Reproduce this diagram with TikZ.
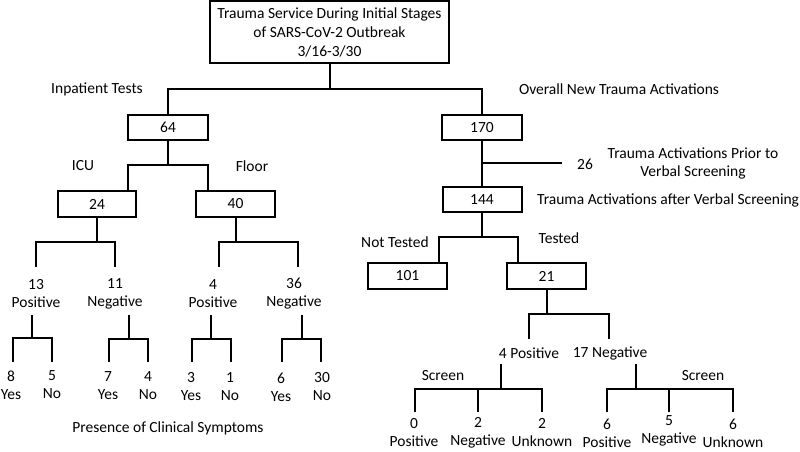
\documentclass[tikz,border=0pt]{standalone}
\usepackage{fontspec}
\setmainfont{Carlito}
\begin{document}
\begin{tikzpicture}[x=1pt,y=-1pt,
  box/.style={draw, line width=2pt, minimum width=79pt, minimum height=25.5pt, inner sep=0pt},
  lbl/.style={inner sep=0pt, align=center, font=\fontsize{15.5}{18}\selectfont},
  conn/.style={line width=2pt}]
\useasboundingbox (0,0) rectangle (800,451);
% boxes
\node[box, minimum width=239pt, minimum height=62pt, align=center, font=\fontsize{15.5}{19}\selectfont] (top) at (329.5,32) {Trauma Service During Initial Stages\\of SARS-CoV-2 Outbreak\\3/16-3/30};
\node[box, lbl, draw, line width=2pt, minimum width=80pt, minimum height=25pt] (b64) at (168,127.5) {64};
\node[box, lbl, draw, line width=2pt, minimum width=80pt, minimum height=25pt] (b170) at (482,127.5) {170};
\node[box, lbl, draw, line width=2pt, minimum width=78pt, minimum height=26pt] (b24) at (97,204) {24};
\node[box, lbl, draw, line width=2pt, minimum width=79pt, minimum height=26pt] (b40) at (235.5,204) {40};
\node[box, lbl, draw, line width=2pt, minimum width=79pt, minimum height=25pt] (b144) at (482,199.5) {144};
\node[box, lbl, draw, line width=2pt, minimum width=79pt, minimum height=26pt] (b101) at (407.5,276) {101};
\node[box, lbl, draw, line width=2pt, minimum width=79pt, minimum height=26pt] (b21) at (546.5,276) {21};
% labels
\node[lbl] (inp) at (97,89) {Inpatient Tests};
\node[lbl] (ovr) at (619,89) {Overall New Trauma Activations};
\node[lbl] (icu) at (83,166) {ICU};
\node[lbl] (flr) at (252,166) {Floor};
\node[lbl] (n26) at (585,164) {26};
\node[lbl] (prior) at (693,163) {Trauma Activations Prior to\\Verbal Screening};
\node[lbl, anchor=west] (after) at (537,200) {Trauma Activations after Verbal Screening};
\node[lbl] (nt) at (395,242) {Not Tested};
\node[lbl] (tst) at (559,238) {Tested};
\node[lbl] (pos4) at (529,353) {4 Positive};
\node[lbl] (neg17) at (610,353) {17 Negative};
\node[lbl] (scr1) at (443,376) {Screen};
\node[lbl] (scr2) at (703,376) {Screen};
\node[lbl] (pres) at (168,428) {Presence of Clinical Symptoms};
% second-level labels left
\node[lbl] (n13) at (36,294) {13\\Positive};
\node[lbl] (n11) at (115,294) {11\\Negative};
\node[lbl] (n4) at (213,294) {4\\Positive};
\node[lbl] (n36) at (294,294) {36\\Negative};
% leaves left
\node[lbl] (y8) at (11,385) {8\\Yes};
\node[lbl] (n5) at (52,385) {5\\No};
\node[lbl] (y7) at (108,386) {7\\Yes};
\node[lbl] (no4) at (148,386) {4\\No};
\node[lbl] (y3) at (191,387) {3\\Yes};
\node[lbl] (no1) at (230,387) {1\\No};
\node[lbl] (y6) at (281,387) {6\\Yes};
\node[lbl] (no30) at (322,387) {30\\No};
% leaves right
\node[lbl] (r0) at (414,433) {0\\Positive};
\node[lbl] (r2a) at (478,433) {2\\Negative};
\node[lbl] (r2b) at (542,433) {2\\Unknown};
\node[lbl] (r6a) at (607,433) {6\\Positive};
\node[lbl] (r5) at (669,431) {5\\Negative};
\node[lbl] (r6b) at (733,433) {6\\Unknown};
% coordinates
\coordinate (j0) at (329.5,89);
\coordinate (j1) at (168,165);
\coordinate (c24) at (128,191);
\coordinate (c40) at (208,191);
\coordinate (j24) at (97,242);
\coordinate (e13) at (36,267);
\coordinate (e11) at (115,267);
\coordinate (j40) at (235.5,242);
\coordinate (e4) at (219,267);
\coordinate (e36) at (298,267);
\coordinate (p13) at (32,315);  \coordinate (q13) at (32,338);
\coordinate (l8) at (13,362);   \coordinate (l5) at (52,362);
\coordinate (p11) at (129,315); \coordinate (q11) at (129,339);
\coordinate (l7) at (109,362);  \coordinate (l4) at (148,362);
\coordinate (p4) at (211,315);  \coordinate (q4) at (211,339);
\coordinate (l3) at (192,362);  \coordinate (l1) at (231,362);
\coordinate (p36) at (302,315); \coordinate (q36) at (302,339);
\coordinate (l6) at (282,362);  \coordinate (l30) at (321,362);
\coordinate (j26) at (482,163); \coordinate (e26) at (562,163);
\coordinate (j144) at (482,237);
\coordinate (c101) at (439,263); \coordinate (c21) at (518,263);
\coordinate (j21) at (546.5,314);
\coordinate (cp4) at (529,339); \coordinate (cn17) at (609,339);
\coordinate (pp4) at (501,364); \coordinate (qp4) at (501,389);
\coordinate (a0) at (415,412); \coordinate (a2) at (478,412); \coordinate (a2b) at (542,412);
\coordinate (pn17) at (636,364); \coordinate (qn17) at (636,389);
\coordinate (b6) at (607,412); \coordinate (b5) at (669,412); \coordinate (b6b) at (733,412);
% connectors
\draw[conn] (top.south) -- (j0);
\draw[conn] (b64.north) |- (j0) -| (b170.north);
\draw[conn] (b64.south) -- (j1);
\draw[conn] (c24) |- (j1) -| (c40);
\draw[conn] (b24.south) -- (j24);
\draw[conn] (e13) |- (j24) -| (e11);
\draw[conn] (b40.south) -- (j40);
\draw[conn] (e4) |- (j40) -| (e36);
\draw[conn] (p13) -- (q13); \draw[conn] (l8) |- (q13) -| (l5);
\draw[conn] (p11) -- (q11); \draw[conn] (l7) |- (q11) -| (l4);
\draw[conn] (p4) -- (q4);   \draw[conn] (l3) |- (q4) -| (l1);
\draw[conn] (p36) -- (q36); \draw[conn] (l6) |- (q36) -| (l30);
\draw[conn] (b170.south) -- (b144.north);
\draw[conn] (j26) -- (e26);
\draw[conn] (b144.south) -- (j144);
\draw[conn] (c101) |- (j144) -| (c21);
\draw[conn] (b21.south) -- (j21);
\draw[conn] (cp4) |- (j21) -| (cn17);
\draw[conn] (pp4) -- (qp4); \draw[conn] (a0) |- (qp4) -| (a2b); \draw[conn] (a2) -- (a2 |- qp4);
\draw[conn] (pn17) -- (qn17); \draw[conn] (b6) |- (qn17) -| (b6b); \draw[conn] (b5) -- (b5 |- qn17);
\end{tikzpicture}
\end{document}
